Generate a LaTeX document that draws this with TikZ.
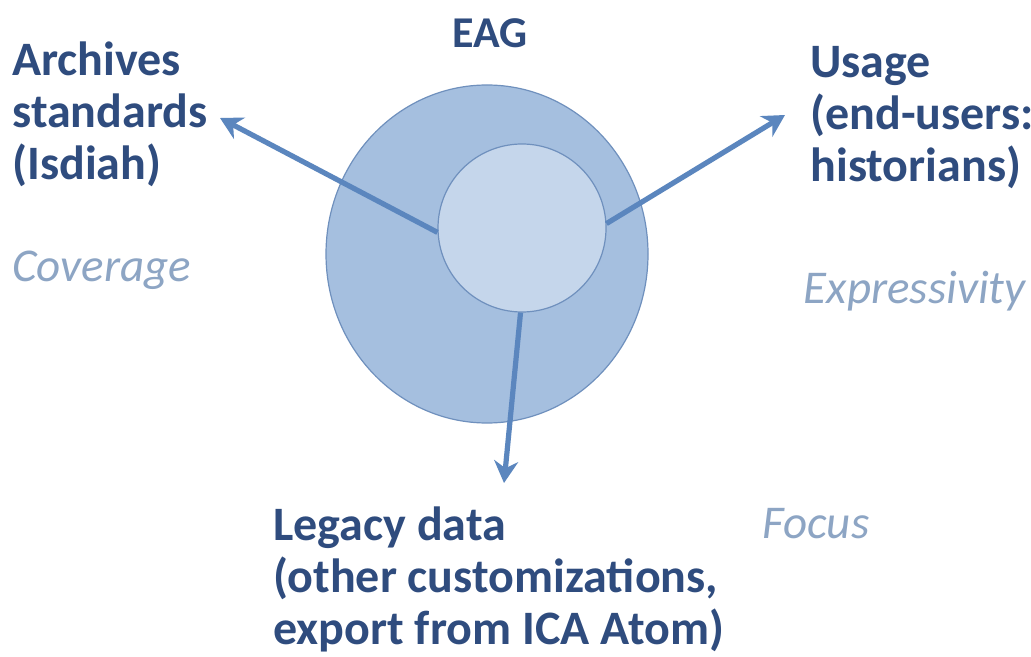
\documentclass[tikz,border=0pt]{standalone}
\usepackage{fontspec}
\setmainfont{Carlito}
\usetikzlibrary{arrows.meta}
\definecolor{darktext}{HTML}{2F4C7E}
\definecolor{softtext}{HTML}{8DA5C4}
\definecolor{outerfill}{HTML}{A5BFDF}
\definecolor{innerfill}{HTML}{C5D6EB}
\definecolor{ringline}{HTML}{6F90BD}
\definecolor{arrowcol}{HTML}{5B86BE}
\begin{document}
\begin{tikzpicture}[x=0.5pt,y=-0.5pt,
  labeltext/.style={font=\fontsize{24}{26}\selectfont\bfseries, text=darktext, align=left, inner sep=0pt, anchor=base west},
  aspecttext/.style={font=\fontsize{23.5}{26}\selectfont\itshape, text=softtext, inner sep=0pt, anchor=base west},
  link/.style={draw=arrowcol, line width=2.6pt, -{Stealth[length=11pt,width=12pt]}}]
\useasboundingbox (0,0) rectangle (1031,657);
\fill[white] (0,0) rectangle (1031,657);
\draw[draw=ringline, fill=outerfill, line width=0.6pt] (487,254) ellipse [x radius=161, y radius=169];
\node[circle, draw=ringline, fill=innerfill, minimum size=84pt, inner sep=0pt, line width=0.6pt] (inner) at (522,228) {};
\coordinate (tipleft) at (220,118);
\coordinate (tipright) at (785,115);
\coordinate (tipdown) at (504,483);
\draw[link] (inner.183) -- (tipleft);
\draw[link] (inner.3) -- (tipright);
\draw[link] (inner.269) -- (tipdown);
\node[labeltext, font=\fontsize{22}{26}\selectfont\bfseries, anchor=base] (eag) at (490,48) {EAG};
\node[labeltext] (archives) at (12,180) {Archives\\standards\\(Isdiah)};
\node[labeltext] (usage) at (810,182) {Usage\\(end-users:\\historians)};
\node[labeltext] (legacy) at (273,644) {Legacy data\\(other customizations,\\export from ICA Atom)};
\node[aspecttext] (coverage) at (12,282) {Coverage};
\node[aspecttext, anchor=base east] (expressivity) at (1026,303) {Expressivity};
\node[aspecttext] (focus) at (762,538) {Focus};
\end{tikzpicture}
\end{document}
